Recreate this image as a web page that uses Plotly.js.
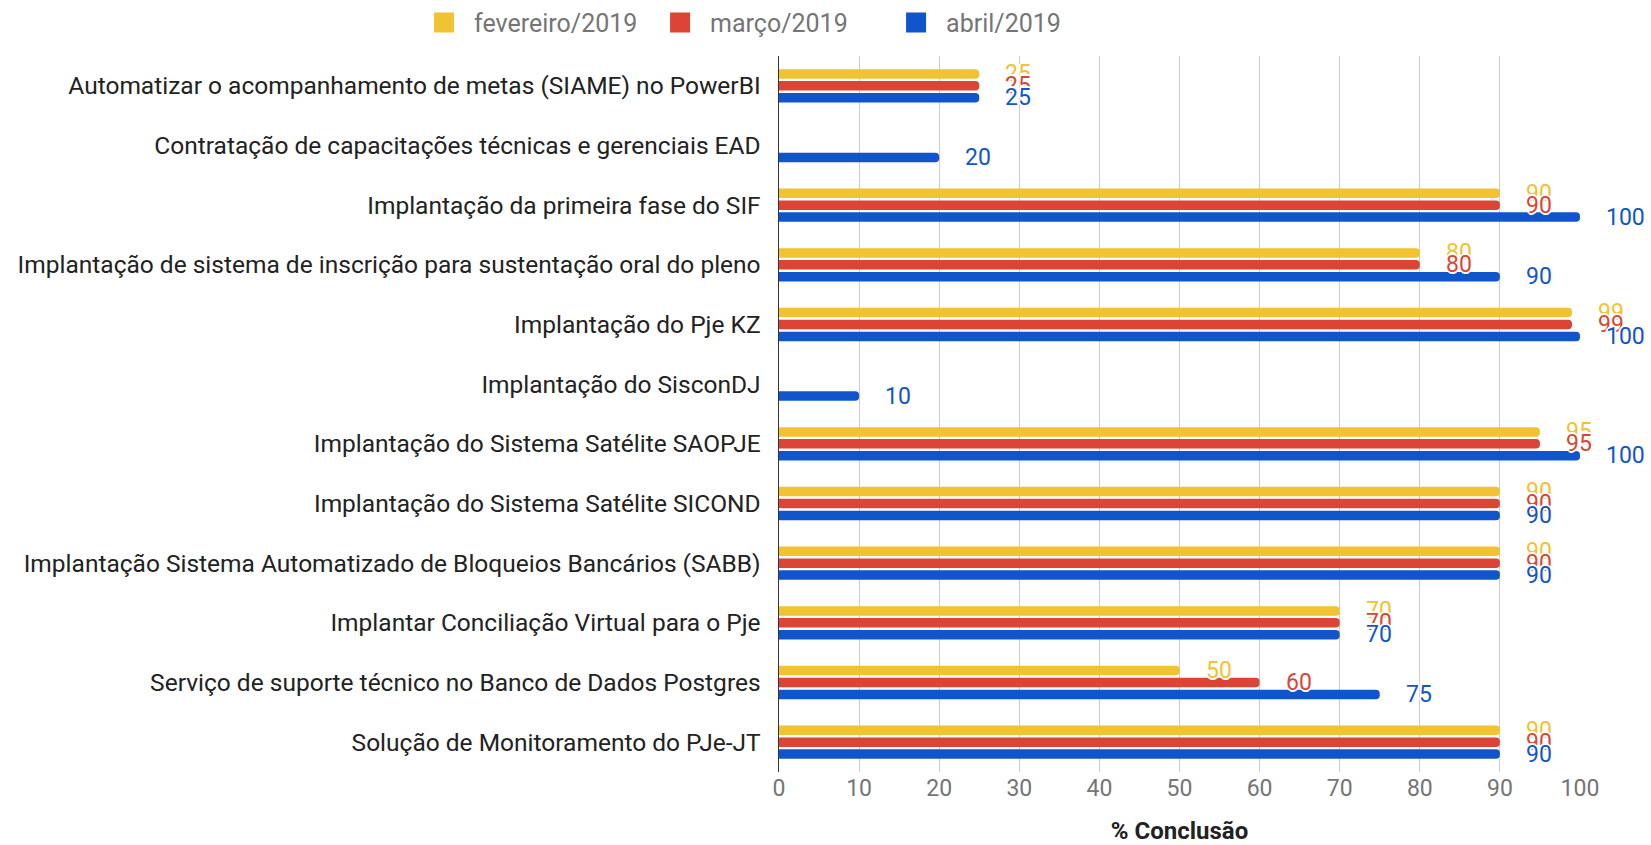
<!DOCTYPE html>
<html>
<head>
<meta charset="utf-8">
<script src="https://cdn.plot.ly/plotly-3.0.1.min.js"></script>
<style>html,body{margin:0;padding:0;background:#fff;}#chart{width:1651px;height:845px;}</style>
</head>
<body>
<div id="chart"></div>
<script>
const categories = [
  "Automatizar o acompanhamento de metas (SIAME) no PowerBI",
  "Contratação de capacitações técnicas e gerenciais EAD",
  "Implantação da primeira fase do SIF",
  "Implantação de sistema de inscrição para sustentação oral do pleno",
  "Implantação do Pje KZ",
  "Implantação do SisconDJ",
  "Implantação do Sistema Satélite SAOPJE",
  "Implantação do Sistema Satélite SICOND",
  "Implantação Sistema Automatizado de Bloqueios Bancários (SABB)",
  "Implantar Conciliação Virtual para o Pje",
  "Serviço de suporte técnico no Banco de Dados Postgres",
  "Solução de Monitoramento do PJe-JT"
];
const fevereiro = [25, null, 90, 80, 99, null, 95, 90, 90, 70, 50, 90];
const marco     = [25, null, 90, 80, 99, null, 95, 90, 90, 70, 60, 90];
const abril     = [25, 20, 100, 90, 100, 10, 100, 90, 90, 70, 75, 90];
const seriesNames = ["fevereiro/2019", "março/2019", "abril/2019"];
const xTicks = [0, 10, 20, 30, 40, 50, 60, 70, 80, 90, 100];

const colors = ["#f1c232", "#dc4535", "#1155cc"];
const series = [fevereiro, marco, abril];
const barW = 0.16;
const centers = [-0.2, 0, 0.2];

const idx = categories.map((c, i) => i);
const traces = series.map((vals, j) => ({
  type: "bar",
  orientation: "h",
  name: seriesNames[j],
  y: idx,
  x: vals,
  width: barW,
  offset: centers[j] - barW / 2,
  marker: {color: colors[j], cornerradius: 4},
  showlegend: false,
  hoverinfo: "x+name"
}));
// legend-only entries (larger square swatches)
seriesNames.forEach((n, j) => {
  traces.push({
    type: "scatter", mode: "markers", name: n,
    x: [null], y: [null],
    marker: {symbol: "square", size: 16, color: colors[j], line: {color: colors[j], width: 4}},
    showlegend: true, hoverinfo: "skip"
  });
});

const annotations = [];
series.forEach((vals, j) => {
  vals.forEach((v, i) => {
    if (v === null) return;
    annotations.push({
      x: v, y: i + centers[j], xref: "x", yref: "y",
      text: String(v), showarrow: false, xanchor: "left", yanchor: "middle",
      xshift: 24,
      font: {family: "Roboto, Arial, sans-serif", size: 23, color: colors[j],
             shadow: "1px 1px 0 #fff, -1px -1px 0 #fff, 1px -1px 0 #fff, -1px 1px 0 #fff, 0 2px 0 #fff, 0 -2px 0 #fff, 2px 0 0 #fff, -2px 0 0 #fff"}
    });
  });
});

const layout = {
  width: 1651, height: 845,
  margin: {l: 779, r: 71, t: 56, b: 73},
  paper_bgcolor: "#fff", plot_bgcolor: "#fff",
  font: {family: "Roboto, Arial, sans-serif", color: "#222"},
  barmode: "group",
  showlegend: true,
  legend: {orientation: "h", x: 0.2508, xref: "container", y: 0.973, yref: "container",
           xanchor: "left", yanchor: "middle", font: {size: 25, color: "#757575"},
           itemwidth: 50, entrywidth: 171, entrywidthmode: "pixels", tracegroupgap: 0},
  xaxis: {
    range: [0, 100], tickvals: xTicks, ticktext: xTicks.map(String),
    showgrid: true, gridcolor: "#cccccc", gridwidth: 1,
    zeroline: false, showline: false, ticks: "",
    tickfont: {size: 23, color: "#757575", family: "Roboto, Arial, sans-serif"},
    title: {text: "<b>% Conclusão</b>", font: {size: 24, color: "#222"}, standoff: 28},
    fixedrange: true
  },
  yaxis: {
    tickvals: idx, ticktext: categories, range: [11.5, -0.5],
    showgrid: false, zeroline: false, ticks: "",
    showline: true, linecolor: "#333", linewidth: 1.5,
    tickfont: {size: 24.5, color: "#222"},
    ticklabelstandoff: 12,
    fixedrange: true
  },
  annotations: annotations
};

Plotly.newPlot("chart", traces, layout, {displayModeBar: false, staticPlot: true});
</script>
</body>
</html>
